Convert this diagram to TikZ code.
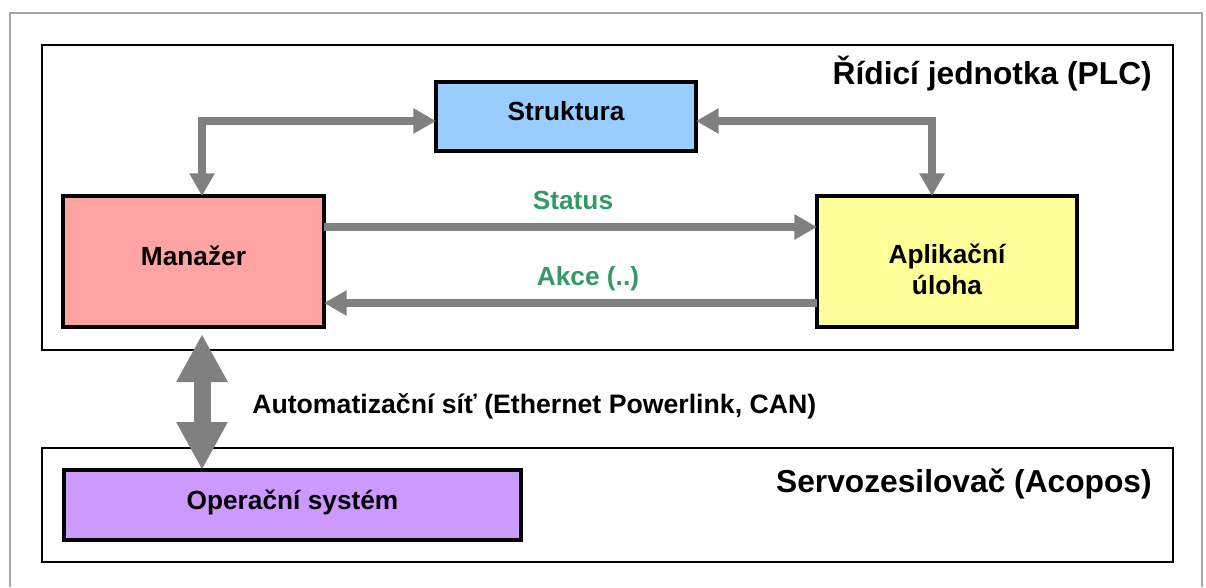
\documentclass[tikz,border=0pt]{standalone}
\usepackage{fontspec}
\setmainfont{Liberation Sans}
\usetikzlibrary{arrows.meta}
\definecolor{linkgray}{HTML}{808080}
\definecolor{outergray}{HTML}{A6A6A6}
\definecolor{strukfill}{HTML}{99CCFF}
\definecolor{manfill}{HTML}{FFA3A3}
\definecolor{appfill}{HTML}{FFFF99}
\definecolor{osfill}{HTML}{CC99FF}
\definecolor{msggreen}{HTML}{339966}
\begin{document}
\begin{tikzpicture}[x=0.75pt,y=-0.75pt,
  frame/.style={draw=black, line width=1.5pt},
  box/.style={draw=black, line width=2.6pt, rectangle, inner sep=0pt, outer sep=0pt},
  lbl/.style={font=\bfseries\fontsize{19.7pt}{23pt}\selectfont, inner sep=0pt, anchor=base},
  msg/.style={lbl, text=msggreen},
  heading/.style={font=\bfseries\fontsize{23.8pt}{28pt}\selectfont, inner sep=0pt, anchor=base east},
  link/.style={draw=linkgray, line width=6pt},
  tipend/.style={-{Triangle[length=17pt,width=18pt]}},
  tipboth/.style={{Triangle[length=17pt,width=18pt]}-{Triangle[length=17pt,width=18pt]}},
  bus/.style={draw=linkgray, line width=12.75pt,
    {Triangle[length=36pt,width=36pt]}-{Triangle[length=36pt,width=36pt]}}
]
\useasboundingbox (0,0) rectangle (1206,587);

% outer page border (open at the bottom)
\draw[outergray, line width=1.5pt] (10,587) -- (10,13) -- (1202,13) -- (1202,587);

% the two devices
\draw[frame] (42,45) rectangle (1173,350);
\draw[frame] (42,448) rectangle (1173,562);
\node[heading] (plc) at (1152,84) {Řídicí jednotka (PLC)};
\node[heading] (servo) at (1152,492) {Servozesilovač (Acopos)};

% blocks
\node[box, fill=strukfill, minimum width=260*0.75pt, minimum height=69*0.75pt] (struk) at (566,116.5) {};
\node[box, fill=manfill, minimum width=261*0.75pt, minimum height=131*0.75pt] (man) at (193.5,261.5) {};
\node[box, fill=appfill, minimum width=260*0.75pt, minimum height=131*0.75pt] (app) at (947,261.5) {};
\node[box, fill=osfill, minimum width=457*0.75pt, minimum height=70*0.75pt] (os) at (292.5,505) {};

\node[lbl] (strukt) at (566,120) {Struktura};
\node[lbl] (mant) at (193.5,265) {Manažer};
\node[lbl] (appt1) at (947,263) {Aplikační};
\node[lbl] (appt2) at (947,294) {úloha};
\node[lbl] (ost) at (292.5,509) {Operační systém};

% routing points of the connectors
\coordinate (kl) at (202,121);
\coordinate (kr) at (932,121);
\coordinate (st) at (0,227);
\coordinate (ak) at (0,303);
\coordinate (bt) at (202,334);

% data exchange inside the PLC
\draw[link, tipboth] (struk.west |- kl) -| (man.north -| kl);
\draw[link, tipboth] (struk.east |- kr) -| (app.north -| kr);
\draw[link, tipend] (man.east |- st) -- (app.west |- st);
\draw[link, tipend] (app.west |- ak) -- (man.east |- ak);
\node[msg] (status) at (573,209) {Status};
\node[msg] (akce) at (588,285) {Akce (..)};

% field bus between PLC and drive
\draw[bus] (bt) -- (os.north -| bt);
\node[lbl, anchor=base west, font=\bfseries\fontsize{20pt}{24pt}\selectfont] (net) at (252,413) {Automatizační síť (Ethernet Powerlink, CAN)};
\end{tikzpicture}
\end{document}
